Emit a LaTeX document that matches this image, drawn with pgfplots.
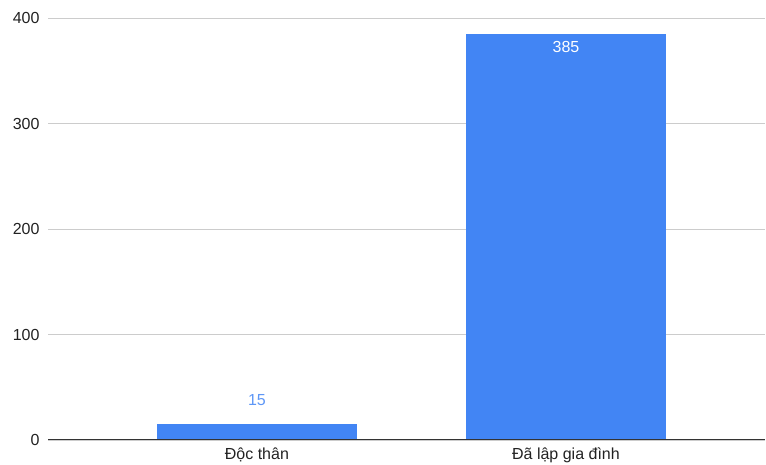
\documentclass[border=0pt]{standalone}
\usepackage{fontspec}
\setmainfont{Liberation Sans}
\usepackage{pgfplots}
\pgfplotsset{compat=1.18}
\definecolor{barblue}{HTML}{4285F4}
\definecolor{gridgray}{HTML}{CCCCCC}
\definecolor{axisdark}{HTML}{333333}
\definecolor{labeltext}{HTML}{222222}
\begin{document}
\begin{tikzpicture}[x=1pt,y=1pt]
\useasboundingbox (0,0) rectangle (766,465);
\begin{axis}[
  at={(48pt,25pt)}, anchor=south west,
  scale only axis, width=717pt, height=422pt,
  xmin=-0.676, xmax=1.644,
  ymin=0, ymax=400,
  ytick={0,100,200,300,400},
  xtick={0,1},
  xticklabels={Độc thân, Đã lập gia đình},
  axis x line*=bottom,
  axis y line*=left,
  y axis line style={draw=none},
  ymajorgrids,
  grid style={gridgray, line width=0.9pt},
  x axis line style={axisdark, line width=1pt, -},
  major tick length=0pt,
  tick label style={font=\fontsize{16}{18}\selectfont, text=labeltext},
  yticklabel style={xshift=-5pt},
  xticklabel style={yshift=-4pt},
  /pgf/number format/assume math mode=true,
  ybar, bar width=200pt, bar shift=0pt,
  clip=false,
]
\addplot[fill=barblue, draw=none,
  nodes near coords,
  nodes near coords style={font=\fontsize{16}{18}\selectfont, text=barblue!85!white, anchor=south, yshift=15pt}]
  coordinates {(0,15)};
\addplot[fill=barblue, draw=none,
  nodes near coords,
  nodes near coords style={font=\fontsize{16}{18}\selectfont, text=white, anchor=north, yshift=-4pt}]
  coordinates {(1,385)};
\draw[axisdark, line width=1pt] (axis cs:-0.676,0) -- (axis cs:1.644,0);
\end{axis}
\end{tikzpicture}
\end{document}
